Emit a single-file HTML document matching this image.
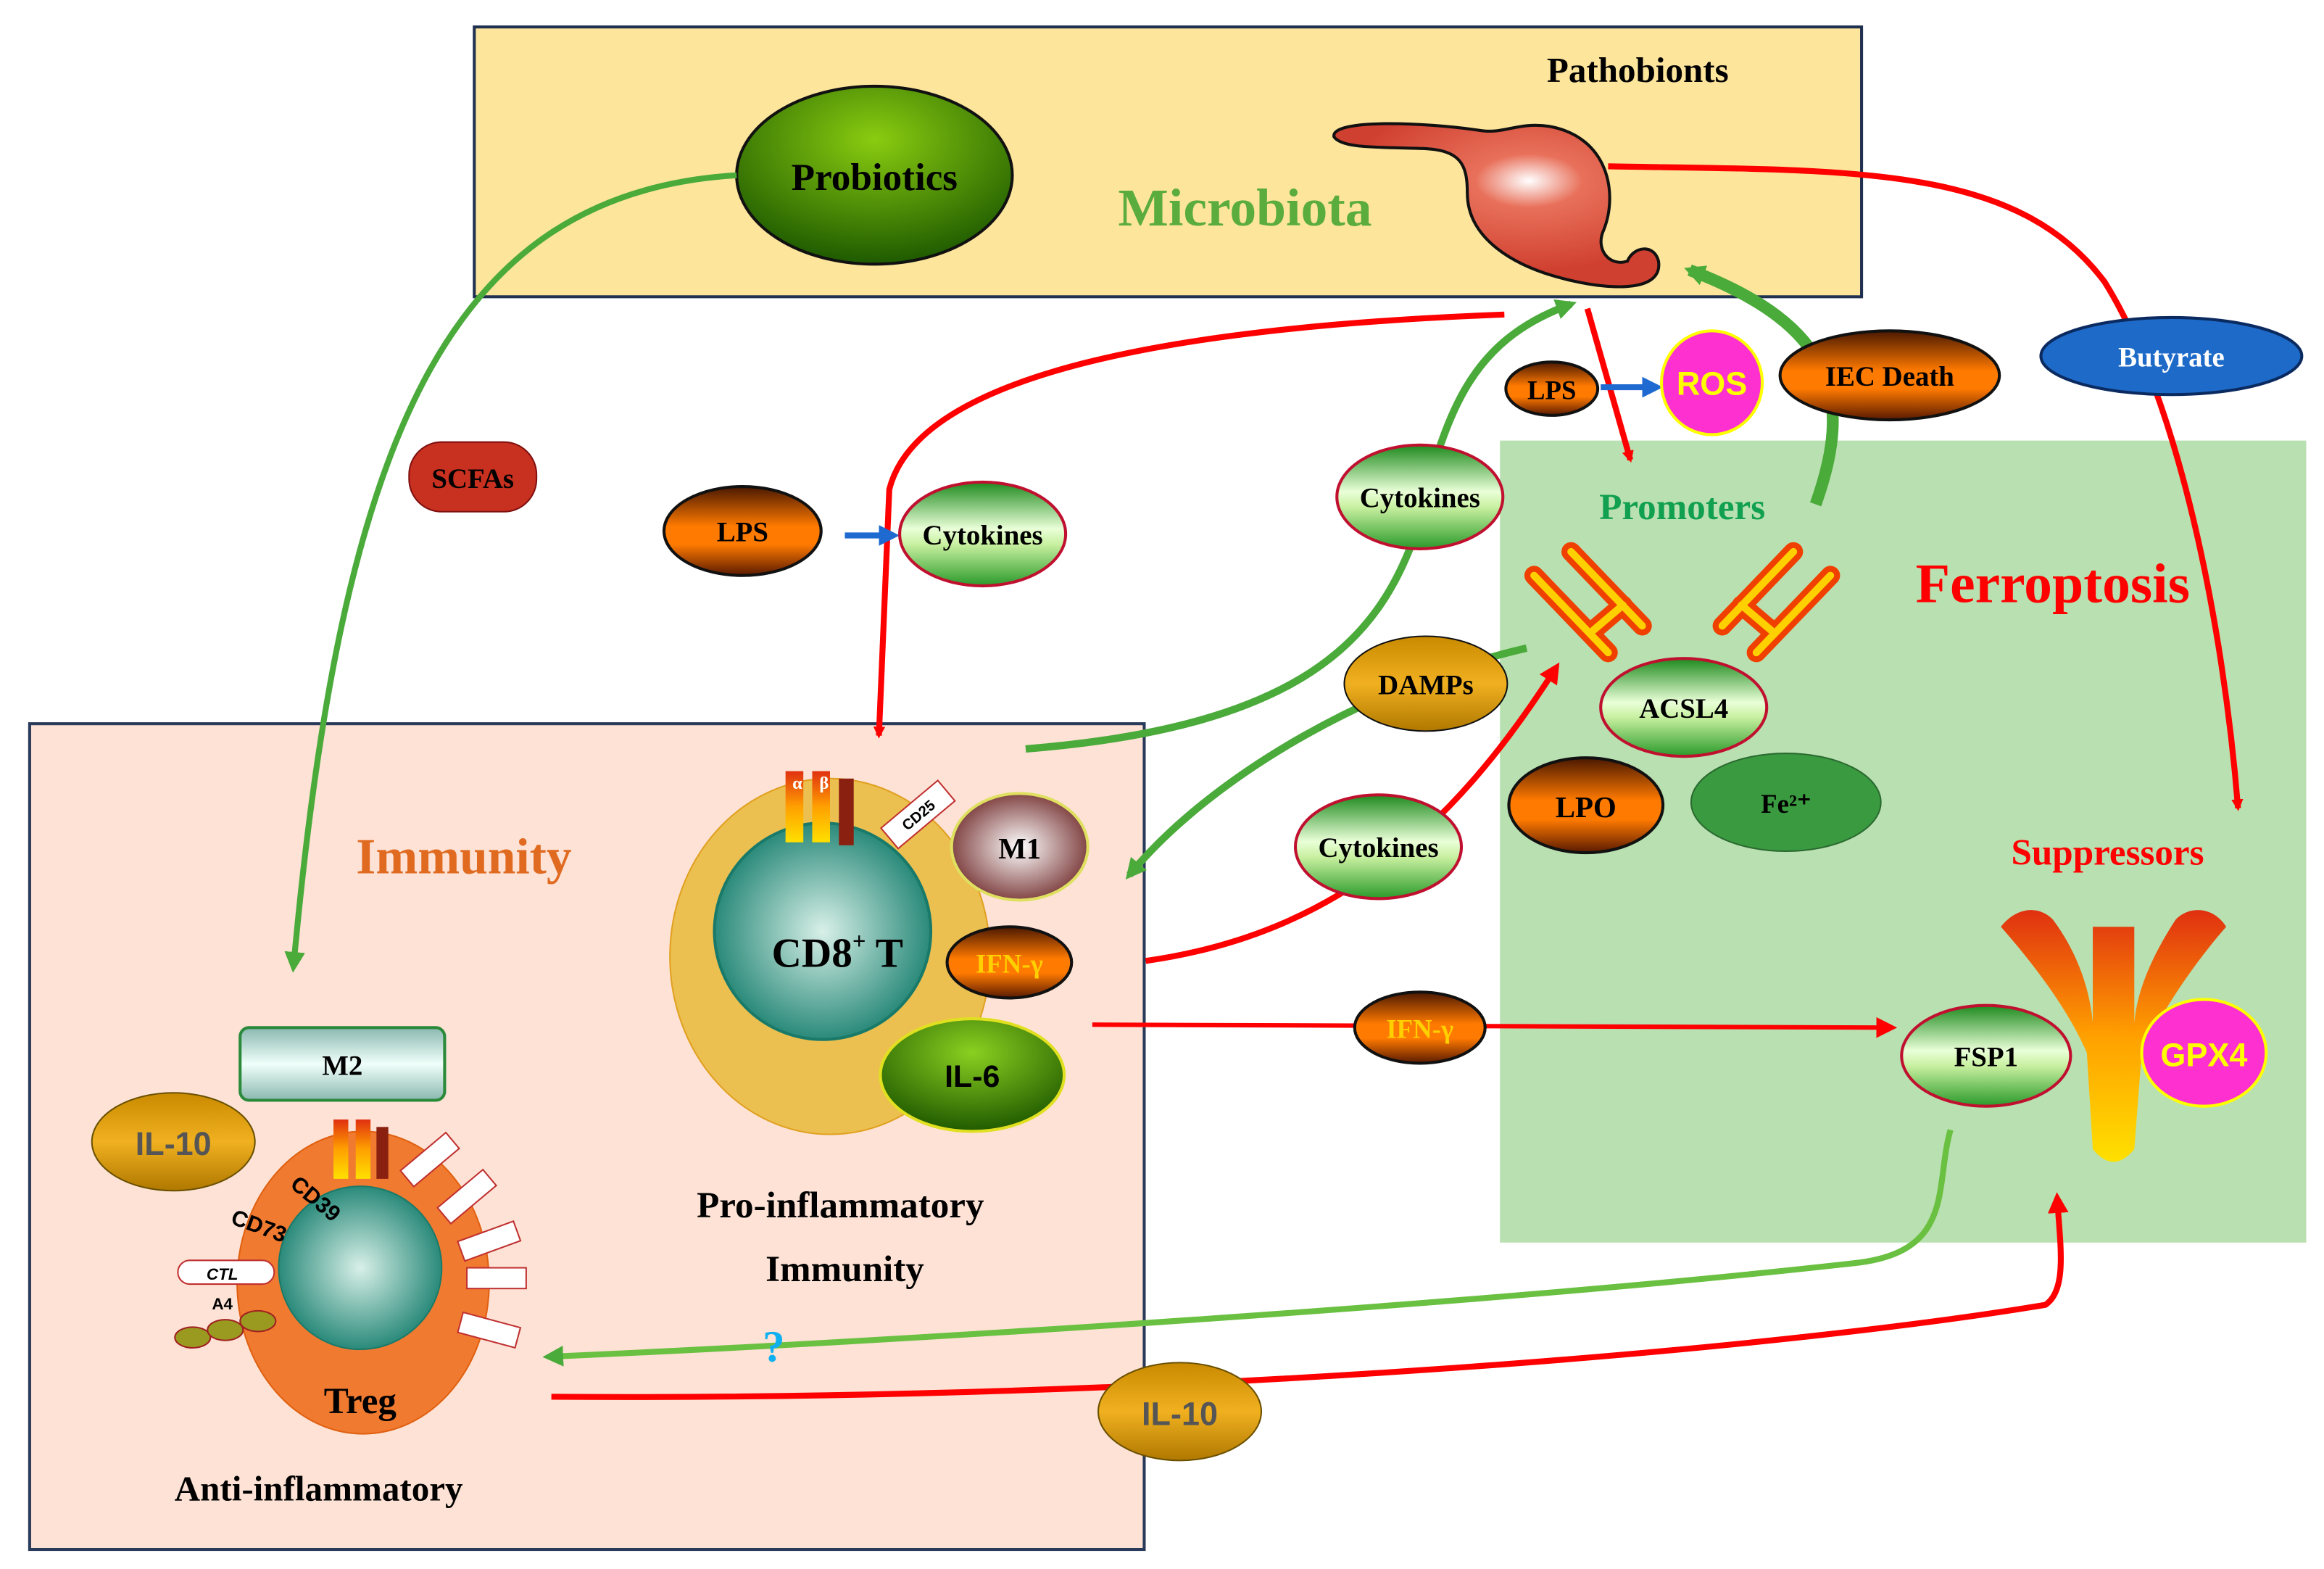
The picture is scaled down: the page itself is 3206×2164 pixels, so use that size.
<!DOCTYPE html>
<html><head><meta charset="utf-8"><style>
html,body{margin:0;padding:0;background:#fff}
svg{display:block}
text{font-family:"Liberation Serif",serif;font-weight:bold}
.s{font-family:"Liberation Sans",sans-serif}
</style></head><body>
<svg width="3206" height="2164" viewBox="0 0 1568 1058" xmlns="http://www.w3.org/2000/svg">
<defs>
<linearGradient id="cyt" x1="0" y1="0" x2="0" y2="1"><stop offset="0" stop-color="#1e8a1e"/><stop offset="0.45" stop-color="#eaffd8"/><stop offset="0.6" stop-color="#c8f0a0"/><stop offset="1" stop-color="#2a9a2a"/></linearGradient>
<linearGradient id="org" x1="0" y1="0" x2="0" y2="1"><stop offset="0" stop-color="#4a1800"/><stop offset="0.45" stop-color="#ff7a00"/><stop offset="0.65" stop-color="#ff7a00"/><stop offset="1" stop-color="#5a1a00"/></linearGradient>
<linearGradient id="gold" x1="0" y1="0" x2="0" y2="1"><stop offset="0" stop-color="#c98a00"/><stop offset="0.5" stop-color="#f0b020"/><stop offset="1" stop-color="#b07800"/></linearGradient>
<radialGradient id="prob" cx="0.5" cy="0.3" r="0.7"><stop offset="0" stop-color="#8acc10"/><stop offset="1" stop-color="#1e5a00"/></radialGradient>
<radialGradient id="bact" cx="0.6" cy="0.35" r="0.55"><stop offset="0" stop-color="#fff"/><stop offset="0.3" stop-color="#e8705a"/><stop offset="1" stop-color="#d04030"/></radialGradient>
<radialGradient id="m1" cx="0.5" cy="0.5" r="0.6"><stop offset="0" stop-color="#fff"/><stop offset="1" stop-color="#6a2020"/></radialGradient>
<radialGradient id="il6" cx="0.5" cy="0.3" r="0.7"><stop offset="0" stop-color="#8ad020"/><stop offset="1" stop-color="#205a00"/></radialGradient>
<radialGradient id="teal" cx="0.5" cy="0.5" r="0.5"><stop offset="0" stop-color="#d8f0e8"/><stop offset="1" stop-color="#2a8a7a"/></radialGradient>
<linearGradient id="yel" x1="0" y1="0" x2="0" y2="1"><stop offset="0" stop-color="#e03010"/><stop offset="0.5" stop-color="#ffa000"/><stop offset="1" stop-color="#ffe000"/></linearGradient>
<linearGradient id="m2" x1="0" y1="0" x2="0" y2="1"><stop offset="0" stop-color="#8ab8b0"/><stop offset="0.5" stop-color="#f0fffa"/><stop offset="1" stop-color="#8ab8b0"/></linearGradient>
<marker id="ar" markerWidth="8" markerHeight="8" refX="6" refY="4" orient="auto" markerUnits="userSpaceOnUse"><path d="M0,0 L8,4 L0,8 z" fill="#f00"/></marker>
<marker id="ag" markerWidth="14" markerHeight="14" refX="10" refY="7" orient="auto" markerUnits="userSpaceOnUse"><path d="M0,0 L14,7 L0,14 z" fill="#4aaa3a"/></marker>
<marker id="ab" markerWidth="14" markerHeight="14" refX="10" refY="7" orient="auto" markerUnits="userSpaceOnUse"><path d="M0,0 L14,7 L0,14 z" fill="#1e6ad0"/></marker>
<marker id="arl" markerWidth="14" markerHeight="14" refX="10" refY="7" orient="auto" markerUnits="userSpaceOnUse"><path d="M0,0 L14,7 L0,14 z" fill="#f00"/></marker>
</defs>

<rect x="320" y="18" width="936" height="182" fill="#fde59c" stroke="#1f3050" stroke-width="2"/>
<rect x="1012" y="297" width="544" height="541" fill="#b9e0b0"/>
<rect x="20" y="488" width="752" height="557" fill="#fde2d5" stroke="#2a3a5a" stroke-width="2"/>

<ellipse cx="590" cy="118" rx="93" ry="60" fill="url(#prob)" stroke="#111" stroke-width="2"/>
<text x="590" y="128" font-size="26" text-anchor="middle">Probiotics</text>
<text x="1105" y="55" font-size="24" text-anchor="middle">Pathobionts</text>
<text x="840" y="152" font-size="36" text-anchor="middle" fill="#5aac3c">Microbiota</text>
<path d="M900,92 C898,80 960,82 1000,88 C1015,90 1025,82 1045,85 C1085,92 1092,130 1082,155 C1076,168 1086,180 1098,176 C1102,166 1116,164 1119,176 C1122,196 1090,196 1060,189 C1020,180 990,160 990,130 C990,110 985,101 960,100 C930,99 905,100 900,92 z" fill="url(#bact)" stroke="#111" stroke-width="2"/>

<path d="M1085,112 C1250,115 1360,110 1420,190 C1470,270 1500,420 1510,545" fill="none" stroke="#f00" stroke-width="4" marker-end="url(#ar)"/>
<path d="M1015,212 C800,220 620,250 600,330 L593,496" fill="none" stroke="#f00" stroke-width="4" marker-end="url(#ar)"/>
<path d="M1071,208 L1100,310" fill="none" stroke="#f00" stroke-width="4" marker-end="url(#ar)"/>

<path d="M497,118 C300,130 230,300 198,652" fill="none" stroke="#4aaa3a" stroke-width="4" marker-end="url(#ag)"/>
<path d="M692,505 C880,490 930,430 955,360 C975,280 990,230 1060,205" fill="none" stroke="#4aaa3a" stroke-width="5" marker-end="url(#ag)"/>
<path d="M1225,340 C1250,270 1240,220 1140,182" fill="none" stroke="#4aaa3a" stroke-width="8" marker-end="url(#ag)"/>
<path d="M1030,437 C930,460 820,520 762,590" fill="none" stroke="#4aaa3a" stroke-width="5" marker-end="url(#ag)"/>
<path d="M1316,762 C1305,800 1320,845 1250,852 C1000,880 600,905 370,915" fill="none" stroke="#6ac040" stroke-width="4" marker-end="url(#ag)"/>

<path d="M773,648 C900,630 980,560 1050,450" fill="none" stroke="#f00" stroke-width="4" marker-end="url(#arl)"/>
<path d="M737,691 L1276,693" fill="none" stroke="#f00" stroke-width="3" marker-end="url(#arl)"/>
<path d="M372,942 C800,945 1200,910 1380,880 C1395,870 1390,840 1388,808" fill="none" stroke="#f00" stroke-width="4" marker-end="url(#arl)"/>

<path d="M1080,261 L1118,261" stroke="#1e6ad0" stroke-width="4" marker-end="url(#ab)"/>
<path d="M570,361 L603,361" stroke="#1e6ad0" stroke-width="4" marker-end="url(#ab)"/>

<ellipse cx="1465" cy="240" rx="88" ry="26" fill="#1e6ac8" stroke="#0a2a60" stroke-width="2"/>
<text x="1465" y="247" font-size="19" text-anchor="middle" fill="#fff">Butyrate</text>
<ellipse cx="1275" cy="253" rx="74" ry="30" fill="url(#org)" stroke="#111" stroke-width="2"/>
<text x="1275" y="260" font-size="19" text-anchor="middle">IEC Death</text>
<ellipse cx="1155" cy="258" rx="34" ry="35" fill="#ff30d0" stroke="#ff0" stroke-width="2"/>
<text x="1155" y="266" class="s" font-size="22" text-anchor="middle" fill="#ff0">ROS</text>
<ellipse cx="1047" cy="262" rx="31" ry="18" fill="url(#org)" stroke="#111" stroke-width="2"/>
<text x="1047" y="269" font-size="18" text-anchor="middle">LPS</text>

<rect x="276" y="298" width="86" height="47" rx="22" fill="#c83020" stroke="#801010"/>
<text x="319" y="329" font-size="19" text-anchor="middle">SCFAs</text>
<ellipse cx="501" cy="358" rx="53" ry="30" fill="url(#org)" stroke="#111" stroke-width="2"/>
<text x="501" y="365" font-size="19" text-anchor="middle">LPS</text>
<ellipse cx="663" cy="360" rx="56" ry="35" fill="url(#cyt)" stroke="#c01030" stroke-width="2"/>
<text x="663" y="367" font-size="19" text-anchor="middle">Cytokines</text>
<ellipse cx="958" cy="335" rx="56" ry="35" fill="url(#cyt)" stroke="#c01030" stroke-width="2"/>
<text x="958" y="342" font-size="19" text-anchor="middle">Cytokines</text>

<text x="1135" y="350" font-size="25" text-anchor="middle" fill="#10a050">Promoters</text>
<text x="1385" y="406" font-size="38" text-anchor="middle" fill="#f00">Ferroptosis</text>

<!-- antibody V arms -->
<g stroke-linecap="round" fill="none">
<g stroke="#f04000" stroke-width="13">
<path d="M1035,388 L1085,440"/><path d="M1060,372 L1108,422"/><path d="M1075,425 L1095,408"/>
<path d="M1235,388 L1185,440"/><path d="M1210,372 L1162,422"/><path d="M1195,425 L1175,408"/>
</g>
<g stroke="#ffd000" stroke-width="5">
<path d="M1035,388 L1085,440"/><path d="M1060,372 L1108,422"/><path d="M1075,425 L1095,408"/>
<path d="M1235,388 L1185,440"/><path d="M1210,372 L1162,422"/><path d="M1195,425 L1175,408"/>
</g>
</g>
<ellipse cx="1136" cy="477" rx="56" ry="33" fill="url(#cyt)" stroke="#c01030" stroke-width="2"/>
<text x="1136" y="484" font-size="19" text-anchor="middle">ACSL4</text>
<ellipse cx="962" cy="461" rx="55" ry="32" fill="url(#gold)" stroke="#111" stroke-width="1"/>
<text x="962" y="468" font-size="19" text-anchor="middle">DAMPs</text>
<ellipse cx="1070" cy="543" rx="52" ry="32" fill="url(#org)" stroke="#111" stroke-width="2"/>
<text x="1070" y="551" font-size="20" text-anchor="middle">LPO</text>
<ellipse cx="1205" cy="541" rx="64" ry="33" fill="#3a9a40" stroke="#2a6a30"/>
<text x="1205" y="548" font-size="18" text-anchor="middle">Fe²⁺</text>
<ellipse cx="930" cy="571" rx="56" ry="35" fill="url(#cyt)" stroke="#c01030" stroke-width="2"/>
<text x="930" y="578" font-size="19" text-anchor="middle">Cytokines</text>

<text x="1422" y="583" font-size="25" text-anchor="middle" fill="#f00">Suppressors</text>
<path d="M1350,625 C1360,612 1375,610 1385,620 C1400,640 1410,665 1412,690 L1412,625 L1440,625 L1440,690 C1442,665 1455,640 1468,620 C1478,610 1494,612 1502,625 C1480,650 1460,680 1445,710 L1440,775 Q1426,792 1412,775 L1408,710 C1395,680 1372,650 1350,625 z" fill="url(#yel)"/>
<ellipse cx="1340" cy="712" rx="57" ry="34" fill="url(#cyt)" stroke="#c01030" stroke-width="2"/>
<text x="1340" y="719" font-size="19" text-anchor="middle">FSP1</text>
<ellipse cx="1487" cy="710" rx="42" ry="36" fill="#ff30d0" stroke="#ff0" stroke-width="2"/>
<text x="1487" y="719" class="s" font-size="22" text-anchor="middle" fill="#ff0" font-weight="bold">GPX4</text>
<ellipse cx="958" cy="693" rx="44" ry="24" fill="url(#org)" stroke="#111" stroke-width="2"/>
<text x="958" y="700" font-size="18" text-anchor="middle" fill="#ffd000">IFN-γ</text>

<text x="313" y="589" font-size="34" text-anchor="middle" fill="#e06a20">Immunity</text>
<ellipse cx="560" cy="645" rx="108" ry="120" fill="#ecc050" stroke="#e0a020"/>
<circle cx="555" cy="628" r="73" fill="url(#teal)" stroke="#1a7a6a" stroke-width="2"/>
<text x="565" y="652" font-size="28" text-anchor="middle">CD8<tspan font-size="16" dy="-12">+</tspan><tspan dy="12"> T</tspan></text>
<rect x="530" y="520" width="12" height="48" fill="url(#yel)"/><rect x="548" y="520" width="12" height="48" fill="url(#yel)"/><rect x="566" y="525" width="10" height="45" fill="#8a2010"/>
<text x="538" y="532" font-size="12" text-anchor="middle" fill="#fff">α</text><text x="556" y="532" font-size="12" text-anchor="middle" fill="#fff">β</text>
<g transform="rotate(-40 620 550)"><rect x="595" y="540" width="50" height="18" fill="#fff" stroke="#c03030"/><text x="620" y="553" font-size="10" class="s" text-anchor="middle" font-weight="normal">CD25</text></g>
<ellipse cx="688" cy="571" rx="46" ry="36" fill="url(#m1)" stroke="#dfe060" stroke-width="2"/>
<text x="688" y="579" font-size="20" text-anchor="middle">M1</text>
<ellipse cx="681" cy="649" rx="42" ry="24" fill="url(#org)" stroke="#111" stroke-width="2"/>
<text x="681" y="656" font-size="18" text-anchor="middle" fill="#ffd000">IFN-γ</text>
<ellipse cx="656" cy="725" rx="62" ry="38" fill="url(#il6)" stroke="#e0e020" stroke-width="2"/>
<text x="656" y="733" class="s" font-size="21" text-anchor="middle" font-weight="normal">IL-6</text>
<text x="567" y="821" font-size="25" text-anchor="middle">Pro-inflammatory</text>
<text x="570" y="864" font-size="25" text-anchor="middle">Immunity</text>

<rect x="162" y="693" width="138" height="49" rx="6" fill="url(#m2)" stroke="#2a8a3a" stroke-width="2"/>
<text x="231" y="725" font-size="19" text-anchor="middle">M2</text>
<ellipse cx="117" cy="770" rx="55" ry="33" fill="url(#gold)" stroke="#6a5000"/>
<text x="117" y="779" class="s" font-size="22" text-anchor="middle" fill="#555">IL-10</text>
<ellipse cx="245" cy="865" rx="85" ry="102" fill="#f07a30" stroke="#e06010"/>
<circle cx="243" cy="855" r="55" fill="url(#teal)" stroke="#1a7a6a"/>
<rect x="225" y="755" width="10" height="40" fill="url(#yel)"/><rect x="240" y="755" width="10" height="40" fill="url(#yel)"/><rect x="254" y="760" width="8" height="35" fill="#8a2010"/>
<g fill="#fff" stroke="#c03030">
<rect x="270" y="775" width="40" height="14" transform="rotate(-40 290 782)"/>
<rect x="295" y="800" width="40" height="14" transform="rotate(-40 315 807)"/>
<rect x="310" y="830" width="40" height="14" transform="rotate(-20 330 837)"/>
<rect x="315" y="855" width="40" height="14"/>
<rect x="310" y="890" width="40" height="14" transform="rotate(15 330 897)"/>
</g>
<text x="195" y="800" font-size="15" class="s" transform="rotate(40 195 800)">CD39</text>
<text x="155" y="825" font-size="15" class="s" transform="rotate(20 155 825)">CD73</text>
<rect x="120" y="850" width="65" height="16" rx="8" fill="#fff" stroke="#c03030"/>
<text x="150" y="863" font-size="11" class="s" text-anchor="middle" font-style="italic">CTL</text>
<text x="150" y="883" font-size="11" class="s" text-anchor="middle" font-weight="normal">A4</text>
<g fill="#9a9a20" stroke="#a02020"><ellipse cx="130" cy="902" rx="12" ry="7"/><ellipse cx="152" cy="897" rx="12" ry="7"/><ellipse cx="174" cy="891" rx="12" ry="7"/></g>
<text x="243" y="953" font-size="25" text-anchor="middle">Treg</text>
<text x="215" y="1012" font-size="24" text-anchor="middle">Anti-inflammatory</text>
<text x="522" y="918" font-size="30" text-anchor="middle" fill="#10b0f0">?</text>
<ellipse cx="796" cy="952" rx="55" ry="33" fill="url(#gold)" stroke="#6a5000"/>
<text x="796" y="961" class="s" font-size="22" text-anchor="middle" fill="#555">IL-10</text>
</svg>
</body></html>
